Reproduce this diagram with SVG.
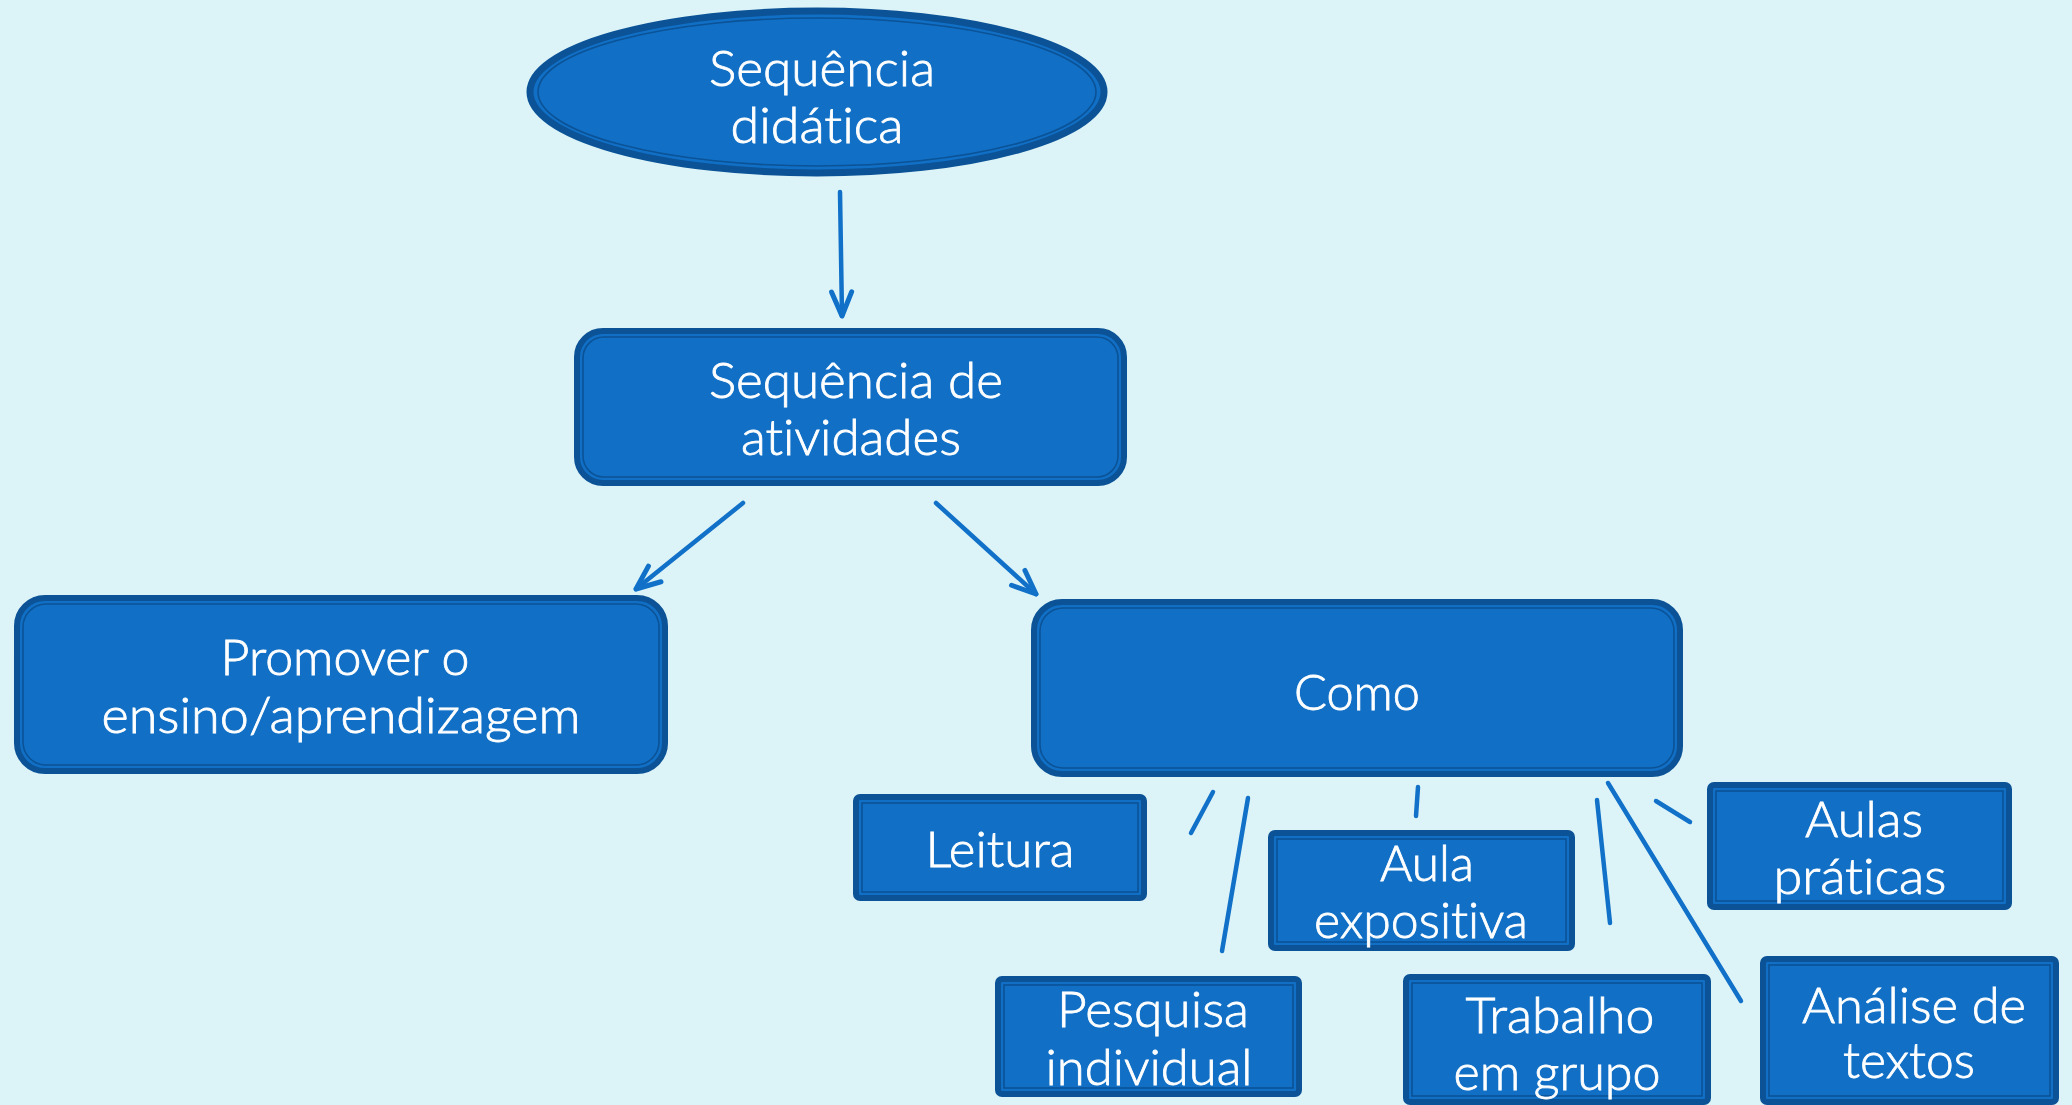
<svg xmlns="http://www.w3.org/2000/svg" width="2072" height="1105" viewBox="0 0 2072 1105">
<style>
.bg{fill:#dcf4f8}
.outer{fill:#1170c6;stroke:#0b5296;stroke-width:6}
.inner{fill:none;stroke:#0b5296;stroke-width:1.6}
.lbl{font-family:"Lato","Noto Sans",sans-serif;font-weight:300;font-size:50px;fill:#ffffff;stroke:#ffffff;stroke-width:0.8;text-anchor:middle;font-variant-ligatures:none}
.conn{stroke:#1170c8;stroke-width:4.5;stroke-linecap:round;fill:none}
</style>
<defs>
<marker id="arr" markerUnits="userSpaceOnUse" viewBox="-28 -16 32 32" refX="0" refY="0" markerWidth="32" markerHeight="32" orient="auto" overflow="visible">
<path d="M -24 -10 L 0 0 L -24 10" fill="none" stroke="#1170c8" stroke-width="5" stroke-linecap="round" stroke-linejoin="round"/>
</marker>
</defs>
<rect class="bg" x="0" y="0" width="2072" height="1105"/>
<g id="connectors">
<line class="conn" x1="840" y1="192" x2="842" y2="316" marker-end="url(#arr)"/>
<line class="conn" x1="743" y1="503" x2="636" y2="589" marker-end="url(#arr)"/>
<line class="conn" x1="936" y1="503" x2="1036" y2="594" marker-end="url(#arr)"/>
<line class="conn" x1="1213" y1="792" x2="1191" y2="833"/>
<line class="conn" x1="1248" y1="798" x2="1222" y2="951"/>
<line class="conn" x1="1418" y1="787" x2="1416" y2="816"/>
<line class="conn" x1="1597" y1="800" x2="1610" y2="923"/>
<line class="conn" x1="1608" y1="783" x2="1741" y2="1001"/>
<line class="conn" x1="1656" y1="801" x2="1690" y2="822"/>
</g>
<g id="node-sequencia-didatica">
<ellipse class="outer" cx="817" cy="92" rx="287" ry="81" style="stroke-width:7"/>
<ellipse class="inner" cx="817" cy="92" rx="279" ry="74"/>
<text class="lbl" x="822" y="86" textLength="226" lengthAdjust="spacingAndGlyphs">Sequência</text>
<text class="lbl" x="817" y="143" textLength="173" lengthAdjust="spacingAndGlyphs">didática</text>
</g>
<g id="node-sequencia-atividades">
<rect class="outer" x="577" y="331" width="547" height="152" rx="26"/>
<rect class="inner" x="583" y="337" width="535" height="140" rx="21"/>
<text class="lbl" x="856" y="398" textLength="294" lengthAdjust="spacingAndGlyphs">Sequência de</text>
<text class="lbl" x="851" y="455" textLength="220" lengthAdjust="spacingAndGlyphs">atividades</text>
</g>
<g id="node-promover">
<rect class="outer" x="17" y="598" width="648" height="173" rx="28"/>
<rect class="inner" x="23" y="604" width="636" height="161" rx="23"/>
<text class="lbl" x="345" y="675" textLength="249" lengthAdjust="spacingAndGlyphs">Promover o</text>
<text class="lbl" x="341" y="733" textLength="479" lengthAdjust="spacingAndGlyphs">ensino/aprendizagem</text>
</g>
<g id="node-como">
<rect class="outer" x="1034" y="602" width="646" height="172" rx="28"/>
<rect class="inner" x="1040" y="608" width="634" height="160" rx="23"/>
<text class="lbl" x="1357" y="710" textLength="126" lengthAdjust="spacingAndGlyphs">Como</text>
</g>
<g id="node-leitura">
<rect class="outer" x="856" y="797" width="288" height="101" rx="4"/>
<rect class="inner" x="862" y="803" width="276" height="89"/>
<text class="lbl" x="1000" y="867" textLength="149" lengthAdjust="spacingAndGlyphs">Leitura</text>
</g>
<g id="node-aula-expositiva">
<rect class="outer" x="1271" y="833" width="301" height="115" rx="4"/>
<rect class="inner" x="1277" y="839" width="289" height="103"/>
<text class="lbl" x="1427" y="881" textLength="94" lengthAdjust="spacingAndGlyphs">Aula</text>
<text class="lbl" x="1421" y="938" textLength="214" lengthAdjust="spacingAndGlyphs">expositiva</text>
</g>
<g id="node-pesquisa">
<rect class="outer" x="998" y="979" width="301" height="115" rx="4"/>
<rect class="inner" x="1004" y="985" width="289" height="103"/>
<text class="lbl" x="1153" y="1027" textLength="192" lengthAdjust="spacingAndGlyphs">Pesquisa</text>
<text class="lbl" x="1149" y="1085" textLength="207" lengthAdjust="spacingAndGlyphs">individual</text>
</g>
<g id="node-trabalho">
<rect class="outer" x="1406" y="977" width="302" height="125" rx="4"/>
<rect class="inner" x="1412" y="983" width="290" height="113"/>
<text class="lbl" x="1560" y="1033" textLength="189" lengthAdjust="spacingAndGlyphs">Trabalho</text>
<text class="lbl" x="1557" y="1090" textLength="207" lengthAdjust="spacingAndGlyphs">em grupo</text>
</g>
<g id="node-aulas-praticas">
<rect class="outer" x="1710" y="785" width="299" height="122" rx="4"/>
<rect class="inner" x="1716" y="791" width="287" height="110"/>
<text class="lbl" x="1864" y="837" textLength="118" lengthAdjust="spacingAndGlyphs">Aulas</text>
<text class="lbl" x="1860" y="894" textLength="173" lengthAdjust="spacingAndGlyphs">práticas</text>
</g>
<g id="node-analise">
<rect class="outer" x="1763" y="959" width="293" height="143" rx="4"/>
<rect class="inner" x="1769" y="965" width="281" height="131"/>
<text class="lbl" x="1914" y="1023" textLength="224" lengthAdjust="spacingAndGlyphs">Análise de</text>
<text class="lbl" x="1909" y="1078" textLength="132" lengthAdjust="spacingAndGlyphs">textos</text>
</g>
</svg>
